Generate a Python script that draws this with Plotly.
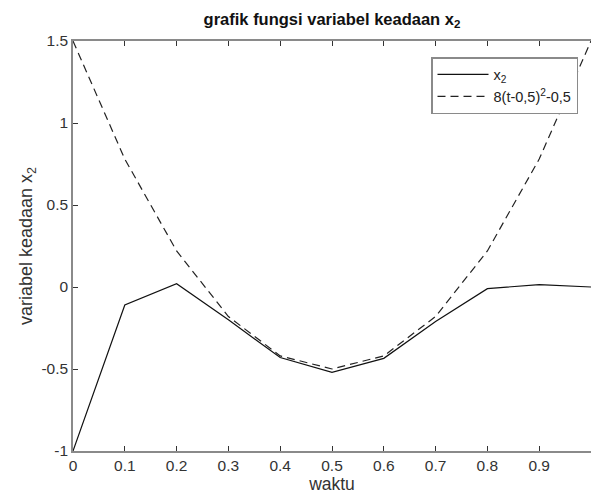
import plotly.graph_objects as go

t = [0, 0.1, 0.2, 0.3, 0.4, 0.5, 0.6, 0.7, 0.8, 0.9, 1.0]
x2 = [-1.0, -0.11, 0.02, -0.20, -0.43, -0.52, -0.435, -0.21, -0.01, 0.015, 0.0]
ref = [1.5, 0.78, 0.22, -0.18, -0.42, -0.5, -0.42, -0.18, 0.22, 0.78, 1.5]

x_ticks = [0, 0.1, 0.2, 0.3, 0.4, 0.5, 0.6, 0.7, 0.8, 0.9, 1.0]
x_ticktext = ["0", "0.1", "0.2", "0.3", "0.4", "0.5", "0.6", "0.7", "0.8", "0.9", "1"]
y_ticks = [-1, -0.5, 0, 0.5, 1, 1.5]
y_ticktext = ["-1", "-0.5", "0", "0.5", "1", "1.5"]

font_family = "Liberation Sans, Arial, sans-serif"

fig = go.Figure()
fig.add_trace(go.Scatter(x=t, y=x2, mode="lines", name="x<sub>2</sub>",
                         line=dict(color="#111111", width=1.2)))
fig.add_trace(go.Scatter(x=t, y=ref, mode="lines", name="8(t-0,5)<sup>2</sup>-0,5",
                         line=dict(color="#222222", width=1.2, dash="8px,5px")))

axis_common = dict(
    showgrid=False, zeroline=False, showline=True, linecolor="#8a8a8a", linewidth=1.5,
    ticks="inside", ticklen=5, tickcolor="#333333", tickwidth=1,
    tickfont=dict(family=font_family, size=15.5, color="#333333"),
)

fig.update_layout(
    width=591, height=498,
    margin=dict(l=73, r=0, t=41, b=47),
    paper_bgcolor="white", plot_bgcolor="white",
    title=dict(text="<b>grafik fungsi variabel keadaan x<sub>2</sub></b>",
               x=0.5, xref="paper", xanchor="center", y=1 - 19 / 498, yanchor="middle",
               font=dict(family=font_family, size=16.5, color="#111111")),
    xaxis=dict(range=[0, 1], tickvals=x_ticks, ticktext=x_ticktext, mirror="ticks",
               automargin=False,
               title=dict(text="waktu", standoff=4,
                          font=dict(family=font_family, size=17.5, color="#333333")),
               **axis_common),
    yaxis=dict(range=[-1, 1.5], tickvals=y_ticks, ticktext=y_ticktext, mirror=False,
               automargin=False,
               title=dict(text="variabel keadaan x<sub>2</sub>", standoff=4,
                          font=dict(family=font_family, size=18, color="#333333")),
               **axis_common),
    legend=dict(x=358 / 518, y=(451 - 57) / 410, xanchor="left", yanchor="top",
                bgcolor="white", bordercolor="#8a8a8a", borderwidth=1.5,
                font=dict(family=font_family, size=14.5, color="#222222"),
                tracegroupgap=0, itemwidth=51),
    showlegend=True,
)

fig.write_html("out.html", config={"displayModeBar": False},
               post_script="document.body.style.margin='0px';document.body.style.overflow='hidden';")
